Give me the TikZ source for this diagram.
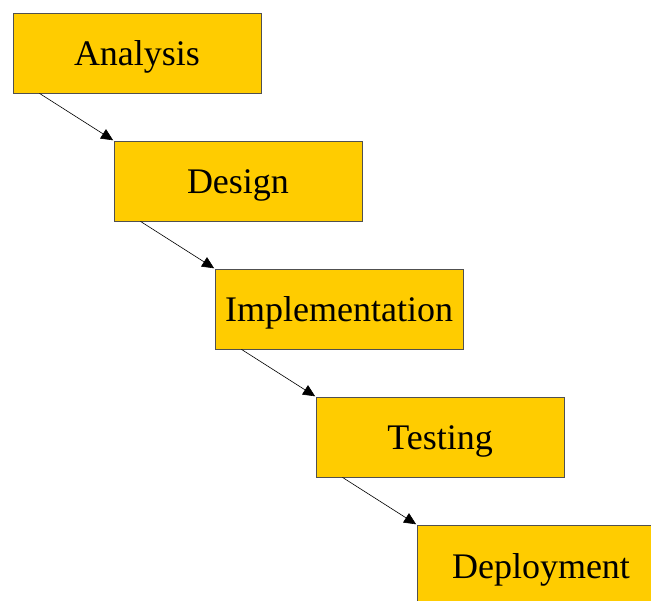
\documentclass[tikz,border=0pt]{standalone}
\usepackage{fontspec}
\setmainfont{Liberation Serif}
\usepackage{color}
\usetikzlibrary{arrows.meta}
\definecolor{phase}{RGB}{255,204,0}
\definecolor{edge}{RGB}{80,80,80}

\begin{document}
\begin{tikzpicture}[
  phasebox/.style={draw=edge, line width=0.9pt, fill=phase, minimum width=248pt, minimum height=80pt, inner sep=0pt, text height=26pt, text depth=0pt, font=\fontsize{36}{36}\selectfont},
  flow/.style={-{Triangle[length=12pt,width=11pt]}, line width=0.6pt, shorten >=0.5pt}
]
\clip (0,0) rectangle (651pt,-601pt);
\fill[white] (0,0) rectangle (651pt,-601pt);

\node[phasebox] (analysis) at (137pt,-53pt) {Analysis};
\node[phasebox] (design) at (238pt,-181pt) {Design};
\node[phasebox] (implementation) at (339pt,-309pt) {Implementation};
\node[phasebox] (testing) at (440pt,-437pt) {Testing};
\node[phasebox] (deployment) at (541pt,-565pt) {Deployment};

\draw[flow] ([xshift=27pt]analysis.south west) -- (design.north west);
\draw[flow] ([xshift=27pt]design.south west) -- (implementation.north west);
\draw[flow] ([xshift=27pt]implementation.south west) -- (testing.north west);
\draw[flow] ([xshift=27pt]testing.south west) -- (deployment.north west);
\end{tikzpicture}
\end{document}
